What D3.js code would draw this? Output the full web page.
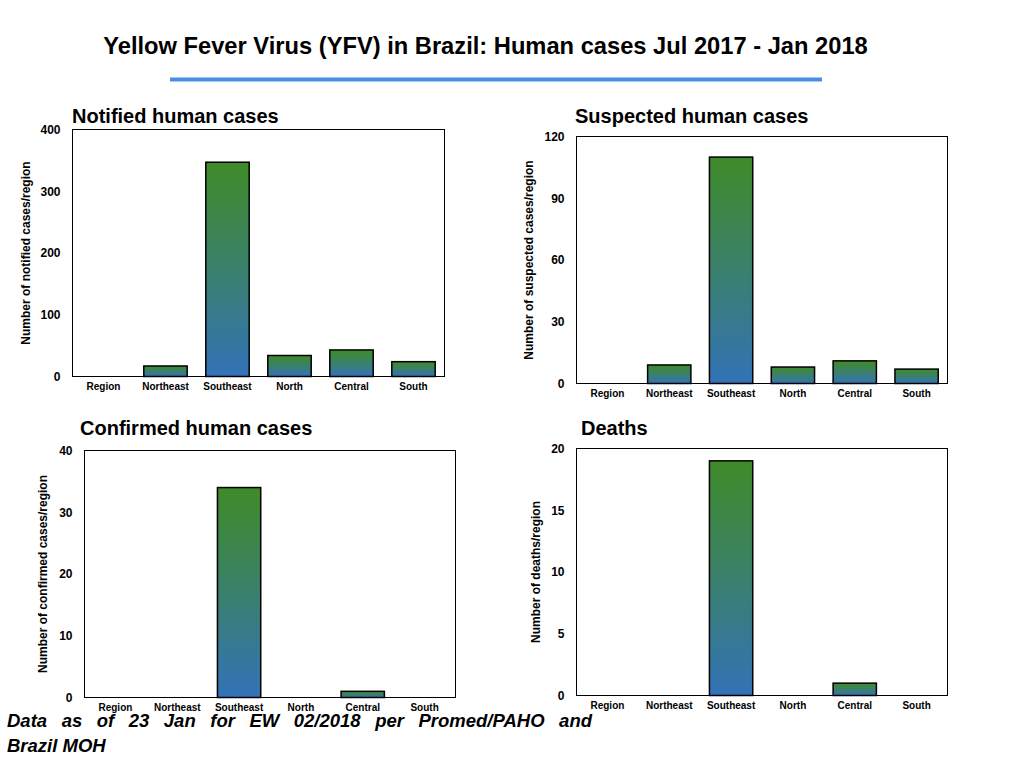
<!DOCTYPE html>
<html>
<head>
<meta charset="utf-8">
<script src="https://cdn.jsdelivr.net/npm/d3@7"></script>
<style>
  html, body { margin: 0; padding: 0; background: #fff; }
  svg { display: block; }
  text { font-family: "Liberation Sans", Arial, Helvetica, sans-serif; }
</style>
</head>
<body>
<svg id="chart" width="1024" height="768"></svg>
<script>
const regions = ["Region", "Northeast", "Southeast", "North", "Central", "South"];
const notified = [0, 17, 347, 34, 43, 24];
const suspected = [0, 9, 110, 8, 11, 7];
const confirmed = [0, 0, 34, 0, 1, 0];
const deaths = [0, 0, 19, 0, 1, 0];

const notifiedTicks = [0, 100, 200, 300, 400];
const suspectedTicks = [0, 30, 60, 90, 120];
const confirmedTicks = [0, 10, 20, 30, 40];
const deathsTicks = [0, 5, 10, 15, 20];

const mainTitle = "Yellow Fever Virus (YFV) in Brazil: Human cases Jul 2017 - Jan 2018";
const footLine1 = "Data as of 23 Jan for EW 02/2018 per Promed/PAHO and";
const footLine2 = "Brazil MOH";

const svg = d3.select("#chart");

const defs = svg.append("defs");
const grad = defs.append("linearGradient")
  .attr("id", "barGrad").attr("x1", 0).attr("y1", 0).attr("x2", 0).attr("y2", 1);
grad.append("stop").attr("offset", "0%").attr("stop-color", "#3f8b28");
grad.append("stop").attr("offset", "50%").attr("stop-color", "#3a806c");
grad.append("stop").attr("offset", "100%").attr("stop-color", "#3372b8");

svg.append("text")
  .attr("x", 485.5).attr("y", 54)
  .attr("text-anchor", "middle")
  .attr("font-size", 23.7).attr("font-weight", "bold")
  .attr("fill", "#000")
  .text(mainTitle);

svg.append("line")
  .attr("x1", 170).attr("x2", 822).attr("y1", 79.5).attr("y2", 79.5)
  .attr("stroke", "#4a90e2").attr("stroke-width", 4);

function panel(cfg) {
  const g = svg.append("g");
  const x = d3.scaleBand().domain(regions)
    .range([cfg.left, cfg.right]).paddingInner(0.3).paddingOuter(0.15);
  const y = d3.scaleLinear().domain([0, cfg.ticks[cfg.ticks.length - 1]])
    .range([cfg.bottom, cfg.top]);

  g.append("text")
    .attr("x", cfg.titleX).attr("y", cfg.titleY)
    .attr("font-size", 20).attr("font-weight", "bold")
    .text(cfg.title);

  const data = regions.map((r, i) => ({ r, v: cfg.values[i] })).filter(d => d.v > 0);
  g.selectAll("rect.bar").data(data).enter().append("rect")
    .attr("class", "bar")
    .attr("x", d => x(d.r))
    .attr("width", x.bandwidth())
    .attr("y", d => y(d.v))
    .attr("height", d => y(0) - y(d.v))
    .attr("fill", "url(#barGrad)")
    .attr("stroke", "#000").attr("stroke-width", 1.5);

  g.append("rect")
    .attr("x", cfg.left).attr("y", cfg.top)
    .attr("width", cfg.right - cfg.left).attr("height", cfg.bottom - cfg.top)
    .attr("fill", "none").attr("stroke", "#000").attr("stroke-width", 1);

  const yAxis = d3.axisLeft(y).tickValues(cfg.ticks).tickSize(0).tickPadding(12);
  const ya = g.append("g").attr("transform", `translate(${cfg.left},0)`).call(yAxis);
  ya.select(".domain").remove();
  ya.selectAll("text").attr("font-size", 12).attr("font-weight", "bold")
    .attr("fill", "#000").attr("font-family", "Liberation Sans, Arial, sans-serif");

  const xAxis = d3.axisBottom(x).tickSize(0).tickPadding(cfg.xPad);
  const xa = g.append("g").attr("transform", `translate(0,${cfg.bottom})`).call(xAxis);
  xa.select(".domain").remove();
  xa.selectAll("text").attr("font-size", 10).attr("font-weight", "bold")
    .attr("fill", "#000").attr("font-family", "Liberation Sans, Arial, sans-serif");

  g.append("text")
    .attr("transform", `translate(${cfg.yTitleX},${(cfg.top + cfg.bottom) / 2}) rotate(-90)`)
    .attr("text-anchor", "middle").attr("dominant-baseline", "central")
    .attr("font-size", 12).attr("font-weight", "bold")
    .text(cfg.yTitle);
}

panel({ title: "Notified human cases", titleX: 72, titleY: 123,
  left: 72.5, right: 444.5, top: 129.5, bottom: 376.5,
  values: notified, ticks: notifiedTicks, xPad: 6,
  yTitle: "Number of notified cases/region", yTitleX: 26 });

panel({ title: "Suspected human cases", titleX: 575, titleY: 123,
  left: 576.5, right: 947.5, top: 136.5, bottom: 383.5,
  values: suspected, ticks: suspectedTicks, xPad: 6,
  yTitle: "Number of suspected cases/region", yTitleX: 529 });

panel({ title: "Confirmed human cases", titleX: 80, titleY: 435,
  left: 84.5, right: 455.5, top: 450.5, bottom: 697.5,
  values: confirmed, ticks: confirmedTicks, xPad: 6,
  yTitle: "Number of confirmed cases/region", yTitleX: 43 });

panel({ title: "Deaths", titleX: 581, titleY: 435,
  left: 576.5, right: 947.5, top: 448.5, bottom: 695.5,
  values: deaths, ticks: deathsTicks, xPad: 6,
  yTitle: "Number of deaths/region", yTitleX: 536 });

const f1 = svg.append("text")
  .attr("x", 7).attr("y", 727)
  .attr("font-size", 18.5).attr("font-weight", "bold").attr("font-style", "italic")
  .text(footLine1);
const targetW = 585;
const natural = f1.node().getComputedTextLength();
const gaps = footLine1.split(" ").length - 1;
f1.attr("word-spacing", Math.max(0, (targetW - natural) / gaps));

svg.append("text")
  .attr("x", 7).attr("y", 752)
  .attr("font-size", 18.5).attr("font-weight", "bold").attr("font-style", "italic")
  .text(footLine2);
</script>
</body>
</html>
